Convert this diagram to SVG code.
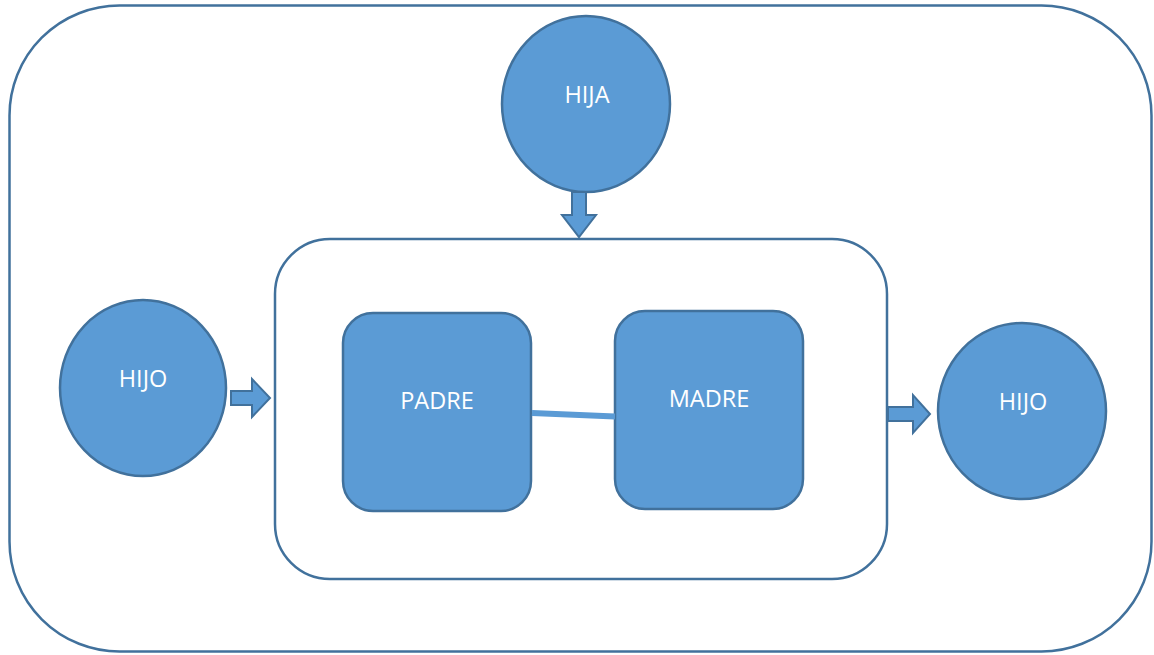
<svg xmlns="http://www.w3.org/2000/svg" width="1154" height="655" viewBox="0 0 1154 655">
<style>
.frame{fill:#fff;stroke:#41719C;stroke-width:2.5}
.node{fill:#5B9BD5;stroke:#41719C;stroke-width:2.5}
.arrow{fill:#5B9BD5;stroke:#41719C;stroke-width:2;stroke-linejoin:miter}
.lbl{font-family:"Open Sans","Liberation Sans",sans-serif;font-size:23.5px;fill:#fff;text-anchor:middle}
</style>
<rect width="1154" height="655" fill="#fff"/>
<g id="outer"><rect class="frame" x="9.5" y="5.5" width="1142" height="646" rx="110" ry="110"/></g>
<g id="family"><rect class="frame" x="275" y="239" width="612" height="340" rx="55" ry="55"/></g>
<g id="hija"><ellipse class="node" cx="586" cy="104" rx="84" ry="88"/><text class="lbl" x="587" y="103">HIJA</text></g>
<g id="hijo-left"><ellipse class="node" cx="143" cy="388" rx="83" ry="88"/><text class="lbl" x="143" y="387">HIJO</text></g>
<g id="hijo-right"><ellipse class="node" cx="1022" cy="411" rx="84" ry="88"/><text class="lbl" x="1023" y="410">HIJO</text></g>
<g id="padre"><rect class="node" x="343" y="313" width="188" height="198" rx="30" ry="30"/><text class="lbl" x="437" y="409">PADRE</text></g>
<g id="madre"><rect class="node" x="615" y="311" width="188" height="198" rx="30" ry="30"/><text class="lbl" x="709" y="407">MADRE</text></g>
<g id="connectors">
<line x1="532" y1="413" x2="615" y2="416.5" stroke="#5B9BD5" stroke-width="6"/>
<polygon class="arrow" points="572,192 586,192 586,215 596,215 579,237 562,215 572,215"/>
<polygon class="arrow" points="231,391 252,391 252,379 270,398 252,417 252,405 231,405"/>
<polygon class="arrow" points="888,407 913,407 913,395 930,414 913,433 913,421 888,421"/>
</g>
</svg>
